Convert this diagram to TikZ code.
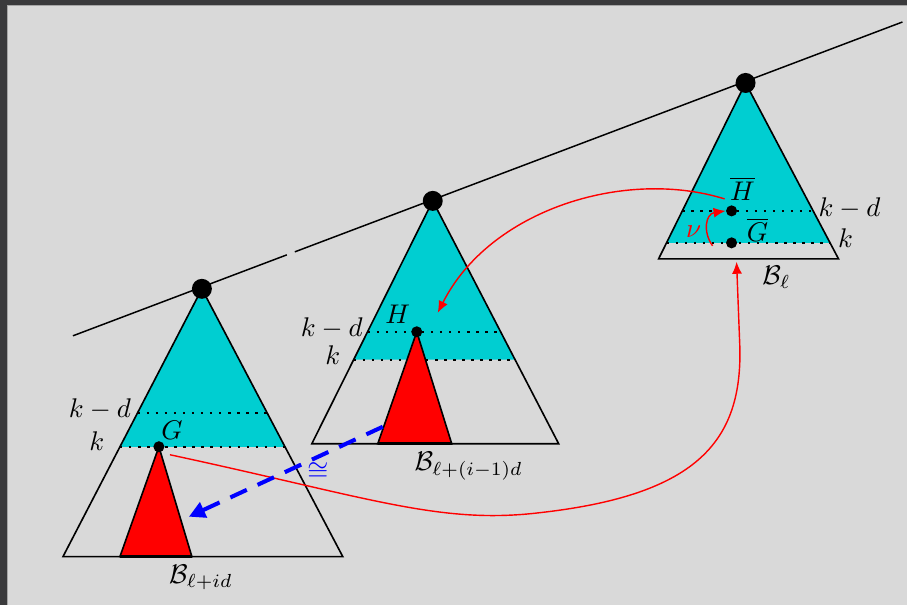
\documentclass[tikz,border=0pt]{standalone}
\usetikzlibrary{calc,arrows.meta}
\definecolor{bg}{RGB}{217,217,217}
\definecolor{framec}{RGB}{58,58,60}
\definecolor{tq}{RGB}{0,206,209}
\begin{document}
\begin{tikzpicture}[x=0.37pt,y=-0.37pt,
  edge/.style={line width=0.6pt},
  lvl/.style={line width=0.74pt,dash pattern=on 0.9pt off 2.45pt},
  bigdot/.style={circle,fill=black,inner sep=0pt,minimum size=7.4pt},
  smalldot/.style={circle,fill=black,inner sep=0pt,minimum size=4.1pt},
  lab/.style={inner sep=0pt},
  redarr/.style={red,line width=0.52pt,-{Latex[length=4.4pt,width=3.7pt]}},
  bluearr/.style={blue,line width=1.5pt,dash pattern=on 6.7pt off 4.4pt,-{Triangle[length=6pt,width=6pt]}},
  ]
% background
\fill[framec] (0,0) rectangle (908,605);
\fill[bg] (8,6) rectangle (908,605);
\draw[gray!70,line width=0.4pt] (7.5,605) -- (7.5,5.5) -- (908,5.5);
\useasboundingbox (0,0) rectangle (908,605);

% apex / base coordinates
\coordinate (A1) at (202,289); \coordinate (L1) at (63,557);  \coordinate (R1) at (343,557);
\coordinate (A2) at (433,201); \coordinate (L2) at (312,444); \coordinate (R2) at (559,444);
\coordinate (A3) at (746,83);  \coordinate (L3) at (659,259); \coordinate (R3) at (839,259);

% the long line
\coordinate (lineS) at (73,336);
\coordinate (gapL) at (287,255);
\coordinate (gapR) at (295,252);
\coordinate (lineE) at (903,22);
\draw[line width=0.55pt] (lineS) -- (gapL);
\draw[line width=0.55pt] (gapR) -- (lineE);

% ---------- tree 1 ----------
\fill[tq] (A1) -- ($(A1)!0.5896!(L1)$) -- ($(A1)!0.5896!(R1)$) -- cycle;
\draw[lvl] ($(A1)!0.4627!(L1)$) -- ($(A1)!0.4627!(R1)$);
\draw[lvl] ($(A1)!0.5896!(L1)$) -- ($(A1)!0.5896!(R1)$);
\coordinate (G) at (159,447);
\filldraw[fill=red,edge] (G) -- (120,557) -- (192,557) -- cycle;
\draw[edge] (A1) -- (L1) -- (R1) -- cycle;
\draw[line width=1pt] (120,557) -- (192,557);
\node[smalldot] (Gdot) at (G) {};
\node[bigdot] (A1dot) at (A1) {};
\node[lab] (Glab) at (172,431) {$G$};
\node[lab] (kd1) at (100,409) {$k-d$};
\node[lab] (k1) at (97,441) {$k$};
\node[lab] (B1) at (201,578) {$\mathcal{B}_{\ell+id}$};

% ---------- tree 2 ----------
\fill[tq] (A2) -- ($(A2)!0.654!(L2)$) -- ($(A2)!0.654!(R2)$) -- cycle;
\draw[lvl] ($(A2)!0.539!(L2)$) -- ($(A2)!0.539!(R2)$);
\draw[lvl] ($(A2)!0.654!(L2)$) -- ($(A2)!0.654!(R2)$);
\coordinate (H) at (417,332);
\filldraw[fill=red,edge] (H) -- (378,444) -- (452,444) -- cycle;
\draw[edge] (A2) -- (L2) -- (R2) -- cycle;
\draw[line width=1pt] (378,444) -- (452,444);
\node[smalldot] (Hdot) at (H) {};
\node[bigdot] (A2dot) at (A2) {};
\node[lab] (Hlab) at (398,314) {$H$};
\node[lab] (kd2) at (332,328) {$k-d$};
\node[lab] (k2) at (333,355) {$k$};
\node[lab] (B2) at (469,466) {$\mathcal{B}_{\ell+(i-1)d}$};

% ---------- tree 3 ----------
\fill[tq] (A3) -- ($(A3)!0.909!(L3)$) -- ($(A3)!0.909!(R3)$) -- cycle;
\draw[lvl] ($(A3)!0.727!(L3)$) -- ($(A3)!0.727!(R3)$);
\draw[lvl] ($(A3)!0.909!(L3)$) -- ($(A3)!0.909!(R3)$);
\draw[edge] (A3) -- (L3) -- (R3) -- cycle;
\node[smalldot] (Hbar) at (732,211) {};
\node[smalldot] (Gbar) at (732,243) {};
\node[bigdot] (A3dot) at (A3) {};
\node[lab] (Hbarlab) at (743,189) {$\overline{H}$};
\node[lab] (Gbarlab) at (758,230) {$\overline{G}$};
\node[lab] (kd3) at (850,208) {$k-d$};
\node[lab] (k3) at (846,238) {$k$};
\node[lab] (B3) at (777,277) {$\mathcal{B}_{\ell}$};
\node[lab,text=red] (nu) at (694,232) {$\nu$};

% ---------- arrows ----------
\coordinate (s1) at (725,199);
\coordinate (e1) at (438,313);
\draw[redarr] (s1) .. controls (625,168) and (490,210) .. (e1);

\coordinate (s2) at (170,455);
\coordinate (m2) at (540,513);
\coordinate (e2) at (737,262);
\draw[redarr] (s2) .. controls (370,498) and (440,525) .. (m2)
  .. controls (700,495) and (745,440) .. (740,340) -- (e2);

\coordinate (s3) at (713,246);
\draw[redarr] (s3) .. controls (703,232) and (706,214) .. (Hbar.west);

\coordinate (s4) at (383,427);
\coordinate (e4) at (189,517);
\draw[bluearr] (s4) -- (e4);
\node[inner sep=0pt,text=blue] (cong) at (318,472) {$\cong$};
\end{tikzpicture}
\end{document}
